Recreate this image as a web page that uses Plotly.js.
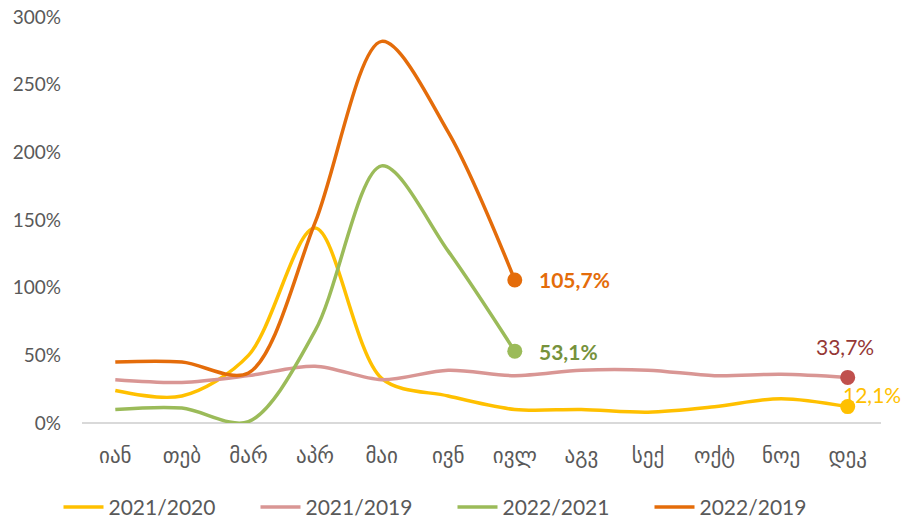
<!DOCTYPE html>
<html>
<head>
<meta charset="utf-8">
<script src="https://cdn.plot.ly/plotly-3.0.1.min.js"></script>
<style>
    body { margin: 0; background: #fff; }
    #chart { width: 905px; height: 524px; }
</style>
</head>
<body>
<div id="chart"></div>
<script>
// months (Georgian abbreviations)
const months = ['იან', 'თებ', 'მარ', 'აპრ', 'მაი', 'ივნ', 'ივლ', 'აგვ', 'სექ', 'ოქტ', 'ნოე', 'დეკ'];

// growth rates, %
const s2021vs2020 = [24, 20, 50, 144, 33, 20, 10, 10, 8, 12, 18, 12.1];
const s2021vs2019 = [32, 30, 35, 42, 32, 39, 35, 39, 39, 35, 36, 33.7];
const s2022vs2021 = [10, 11, 1, 68, 190, 127, 53.1];
const s2022vs2019 = [45, 45, 37, 148, 282, 215, 105.7];

const yTicks = [0, 50, 100, 150, 200, 250, 300];

const baseFont = 'Lato, DejaVu Sans, sans-serif';
const tickFont = { family: baseFont, size: 19, color: '#595959' };

function lineTrace(name, vals, color) {
    return {
        x: months.slice(0, vals.length),
        y: vals,
        name: name,
        mode: 'lines',
        line: { color: color, width: 3.5, shape: 'spline', smoothing: 0.9 },
        hoverinfo: 'skip',
    };
}

function endPoint(vals, color) {
    const i = vals.length - 1;
    return {
        x: [months[i]],
        y: [vals[i]],
        mode: 'markers',
        showlegend: false,
        marker: { color: color, size: 15 },
        cliponaxis: false,
        hoverinfo: 'skip',
    };
}

// value label next to the last point of a series
function endLabel(vals, color, bold, xanchor, xshift, yshift) {
    const i = vals.length - 1;
    const label = vals[i].toFixed(1).replace('.', ',') + '%';
    return {
        x: months[i],
        y: vals[i],
        text: bold ? '<b>' + label + '</b>' : label,
        showarrow: false,
        xanchor: xanchor,
        yanchor: 'middle',
        xshift: xshift,
        yshift: yshift,
        font: { family: baseFont, size: 21, color: color },
    };
}

const data = [
    lineTrace('2021/2020', s2021vs2020, '#FFC000'),
    lineTrace('2021/2019', s2021vs2019, '#D99694'),
    lineTrace('2022/2021', s2022vs2021, '#9BBB59'),
    lineTrace('2022/2019', s2022vs2019, '#E46C0A'),
    endPoint(s2021vs2020, '#FFC000'),
    endPoint(s2021vs2019, '#C0504D'),
    endPoint(s2022vs2021, '#9BBB59'),
    endPoint(s2022vs2019, '#E46C0A'),
];

const layout = {
    width: 905,
    height: 524,
    margin: { l: 82, r: 24, t: 17, b: 101 },
    paper_bgcolor: '#ffffff',
    plot_bgcolor: '#ffffff',
    font: tickFont,
    xaxis: {
        type: 'category',
        range: [-0.5, 11.5],
        showgrid: false,
        zeroline: false,
        showline: false,
        ticks: '',
        ticklabelstandoff: 18,
        tickfont: { family: baseFont, size: 21, color: '#595959' },
        fixedrange: true,
    },
    yaxis: {
        range: [0, 300],
        tickvals: yTicks,
        ticktext: yTicks.map(v => v + '%'),
        showgrid: false,
        zeroline: true,
        zerolinecolor: '#D9D9D9',
        zerolinewidth: 1.5,
        ticks: '',
        ticklabelstandoff: 20,
        tickfont: tickFont,
        fixedrange: true,
    },
    annotations: [
        endLabel(s2021vs2020, '#FFC000', false, 'center', 24, 12),
        endLabel(s2021vs2019, '#953735', false, 'center', -3, 31),
        endLabel(s2022vs2021, '#76923C', true, 'left', 22, 0),
        endLabel(s2022vs2019, '#E46C0A', true, 'left', 22, 0),
    ],
    showlegend: true,
    legend: {
        orientation: 'h',
        xref: 'container',
        yref: 'container',
        x: 0.5,
        xanchor: 'center',
        y: 0.032,
        yanchor: 'middle',
        font: { family: baseFont, size: 21, color: '#595959' },
        entrywidth: 142,
        entrywidthmode: 'pixels',
        itemwidth: 40,
    },
};

Plotly.newPlot('chart', data, layout, { staticPlot: true, displayModeBar: false });
</script>
</body>
</html>
